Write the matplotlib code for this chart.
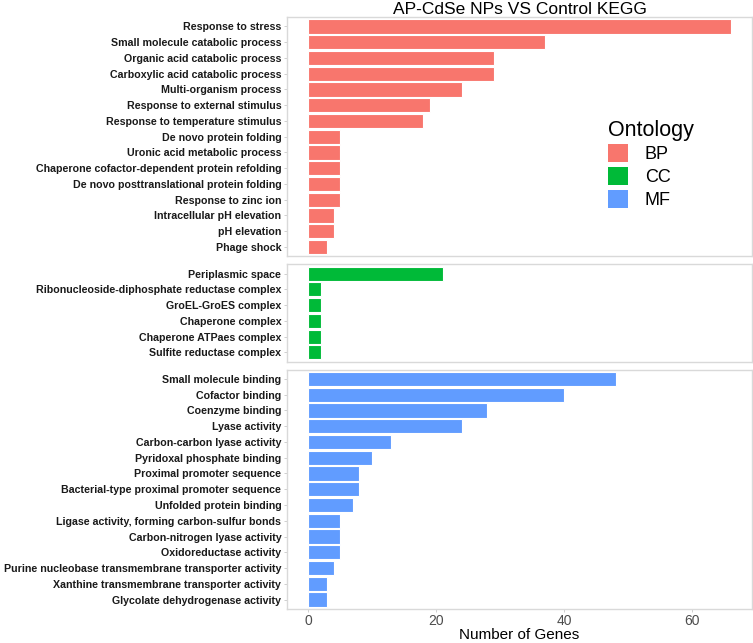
import matplotlib.pyplot as plt
from matplotlib.patches import Patch

# datos
bp_terms = ["Response to stress", "Small molecule catabolic process",
            "Organic acid catabolic process", "Carboxylic acid catabolic process",
            "Multi-organism process", "Response to external stimulus",
            "Response to temperature stimulus", "De novo protein folding",
            "Uronic acid metabolic process", "Chaperone cofactor-dependent protein refolding",
            "De novo posttranslational protein folding", "Response to zinc ion",
            "Intracellular pH elevation", "pH elevation", "Phage shock"]
bp_counts = [66, 37, 29, 29, 24, 19, 18, 5, 5, 5, 5, 5, 4, 4, 3]

cc_terms = ["Periplasmic space", "Ribonucleoside-diphosphate reductase complex",
            "GroEL-GroES complex", "Chaperone complex", "Chaperone ATPaes complex",
            "Sulfite reductase complex"]
cc_counts = [21, 2, 2, 2, 2, 2]

mf_terms = ["Small molecule binding", "Cofactor binding", "Coenzyme binding",
            "Lyase activity", "Carbon-carbon lyase activity", "Pyridoxal phosphate binding",
            "Proximal promoter sequence", "Bacterial-type proximal promoter sequence",
            "Unfolded protein binding", "Ligase activity, forming carbon-sulfur bonds",
            "Carbon-nitrogen lyase activity", "Oxidoreductase activity",
            "Purine nucleobase transmembrane transporter activity",
            "Xanthine transmembrane transporter activity",
            "Glycolate dehydrogenase activity"]
mf_counts = [48, 40, 28, 24, 13, 10, 8, 8, 7, 5, 5, 5, 4, 3, 3]

ontologias = ["BP", "CC", "MF"]
colores = ["#F8766D", "#00BA38", "#619CFF"]
grupos = [(bp_terms, bp_counts), (cc_terms, cc_counts), (mf_terms, mf_counts)]

plt.rcParams['font.family'] = ['Liberation Sans', 'DejaVu Sans']

fig, axes = plt.subplots(3, 1, figsize=(7.53, 6.43), dpi=100, sharex=True,
                         gridspec_kw={'height_ratios': [15.2, 6.2, 15.2]})
fig.subplots_adjust(left=0.381, right=0.9987, top=0.9736, bottom=0.0529, hspace=0.04)

xmax = max(bp_counts)
for ax, (terms, counts), color in zip(axes, grupos, colores):
    n = len(terms)
    pos = list(range(n))
    ax.barh(pos, counts, height=0.9, color=color, edgecolor='white', linewidth=0.8)
    ax.set_yticks(pos)
    ax.set_yticklabels(terms, fontsize=7.7, fontweight='bold', color='#1a1a1a')
    ax.set_ylim(n - 1 + 0.6, -0.6)
    ax.set_xlim(-0.05 * xmax, 1.05 * xmax)
    for s in ax.spines.values():
        s.set_color('#d9d9d9')
        s.set_linewidth(1.0)
    ax.tick_params(axis='both', color='#c8c8c8', length=2.5, width=0.6)
    ax.tick_params(axis='y', pad=1.5)

for ax in axes[:-1]:
    ax.tick_params(axis='x', bottom=False, labelbottom=False)

axes[-1].set_xticks([0, 20, 40, 60])
axes[-1].tick_params(axis='x', labelsize=10, labelcolor='#4d4d4d', pad=1)
axes[-1].set_xlabel("Number of Genes", fontsize=11, labelpad=0)
axes[0].set_title("AP-CdSe NPs VS Control KEGG", fontsize=12.5, pad=2)

handles = [Patch(facecolor=c, edgecolor='none') for c in colores]
fig.legend(handles, ontologias, title="Ontology", loc='upper left',
           bbox_to_anchor=(0.795, 0.828), frameon=False, fontsize=13,
           title_fontsize=15.5, handlelength=1.15, handleheight=1.15,
           handletextpad=0.9, labelspacing=0.2, borderpad=0, alignment='left')

plt.savefig('out.png', dpi=100)
